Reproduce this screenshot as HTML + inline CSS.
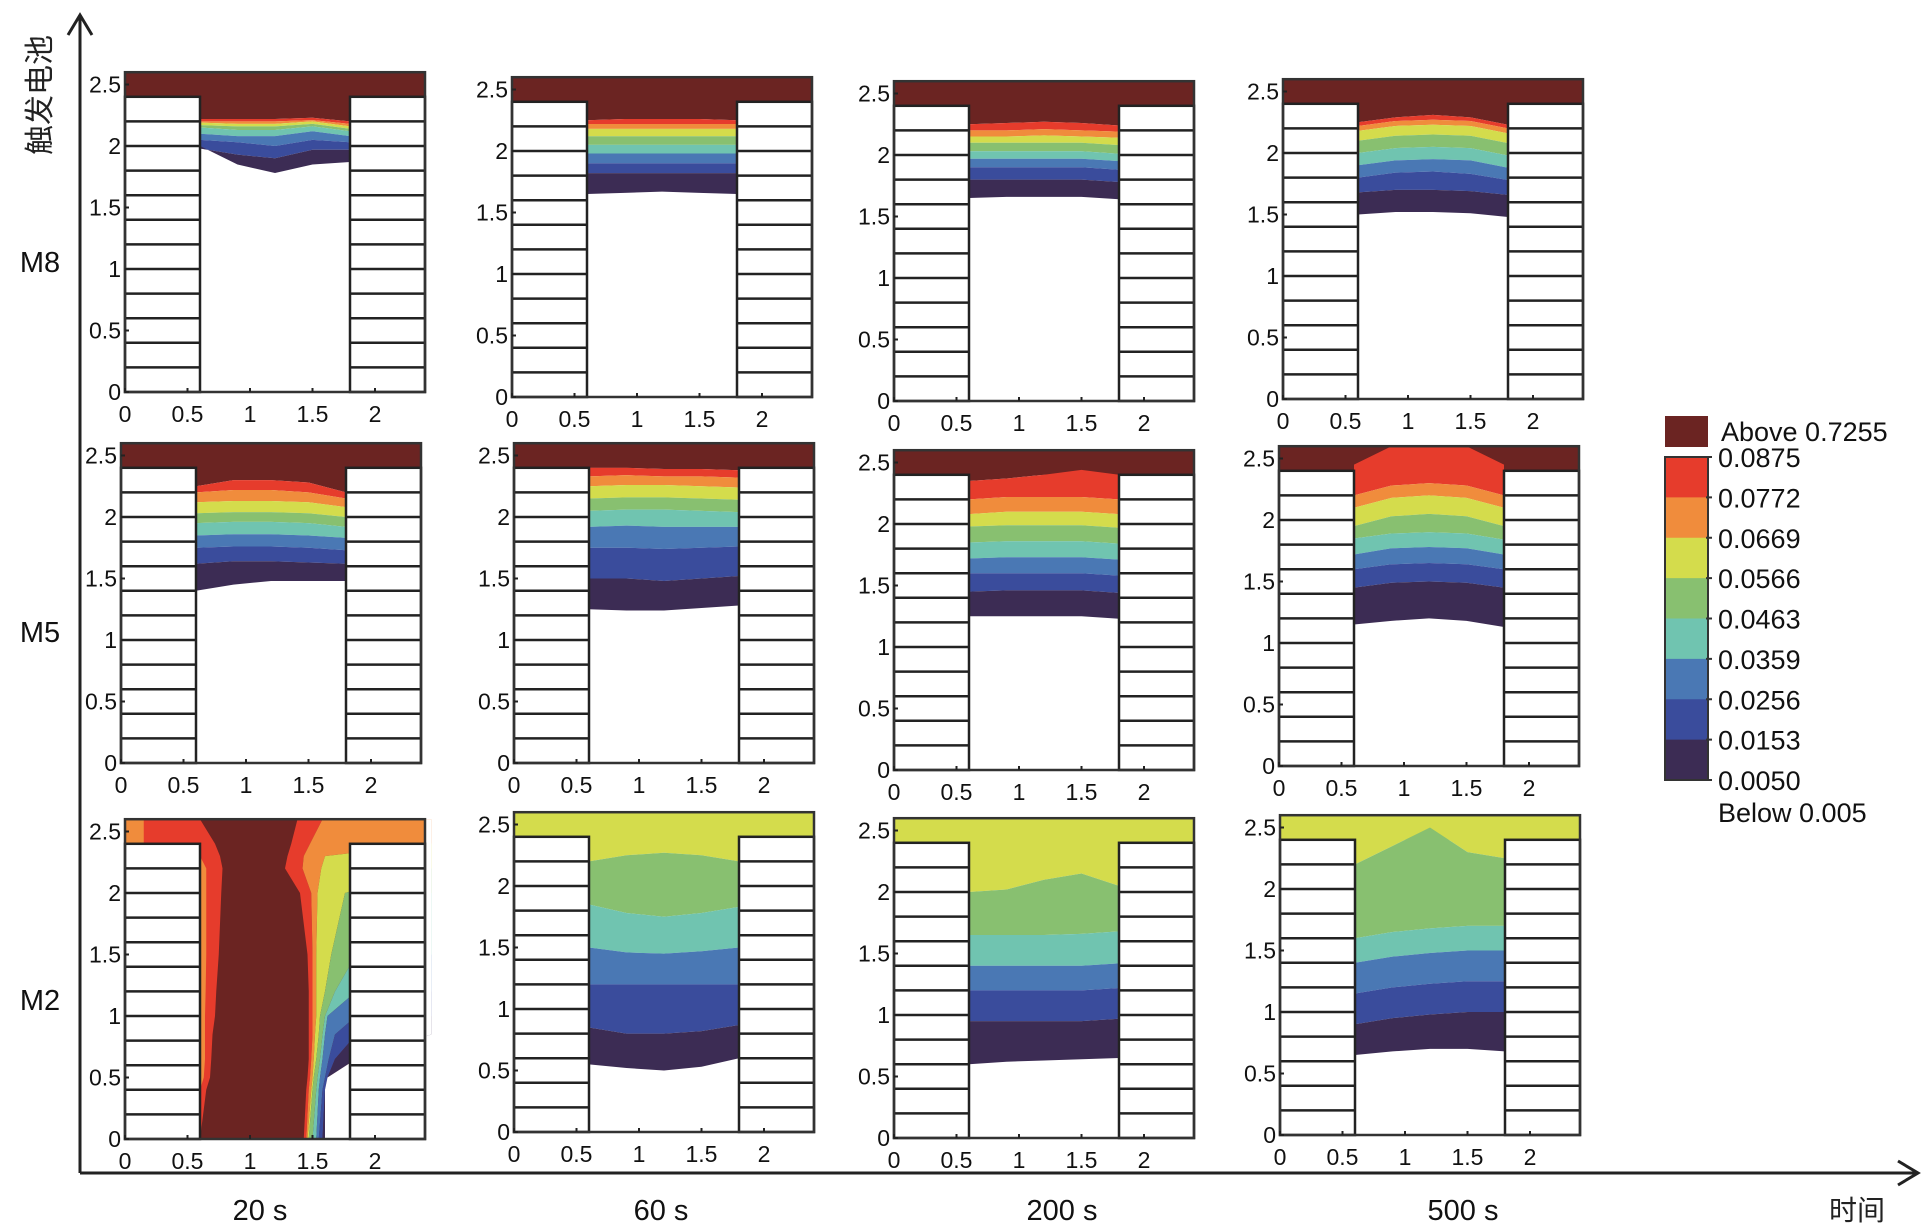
<!DOCTYPE html>
<html><head><meta charset="utf-8"><style>
html,body{margin:0;padding:0;background:#fff}
svg{display:block;font-family:"Liberation Sans","Noto Sans CJK SC",sans-serif}
</style></head><body>
<svg id="chart" width="1931" height="1228" viewBox="0 0 1931 1228"></svg>
<script>
// ---- data ----
const colors = ["#6b2422","#e63c2c","#f08c3c","#d4dc4c","#88c070","#70c4b0","#4a78b4","#3a4c9c","#3c2c54"];
const legendLabels = ["0.0875","0.0772","0.0669","0.0566","0.0463","0.0359","0.0256","0.0153","0.0050"];
const rowNames = ["M8","M5","M2"];
const timeLabels = ["20 s","60 s","200 s","500 s"];
const xTicks = [0,0.5,1,1.5,2];
const yTicks = [0,0.5,1,1.5,2,2.5];
const bandX = [0.6,0.9,1.2,1.5,1.8];
const p00 = [[2.22,2.22,2.22,2.23,2.2],[2.2,2.2,2.2,2.21,2.18],[2.19,2.18,2.18,2.2,2.16],[2.17,2.16,2.16,2.18,2.14],[2.15,2.13,2.13,2.16,2.12],[2.1,2.08,2.08,2.12,2.08],[2.05,2.03,2.0,2.05,2.03],[1.98,1.93,1.9,1.97,1.97],[2.0,1.85,1.78,1.85,1.87]];
const p01 = [[2.25,2.26,2.26,2.26,2.25],[2.22,2.22,2.22,2.22,2.22],[2.18,2.18,2.18,2.18,2.18],[2.12,2.12,2.12,2.12,2.12],[2.05,2.05,2.05,2.05,2.05],[1.98,1.98,1.98,1.98,1.98],[1.9,1.9,1.9,1.9,1.9],[1.82,1.82,1.82,1.82,1.82],[1.65,1.66,1.67,1.66,1.65]];
const p02 = [[2.25,2.26,2.27,2.26,2.24],[2.2,2.2,2.21,2.2,2.19],[2.15,2.15,2.16,2.15,2.14],[2.1,2.1,2.1,2.1,2.08],[2.03,2.03,2.03,2.03,2.01],[1.97,1.97,1.97,1.97,1.95],[1.9,1.9,1.9,1.9,1.88],[1.8,1.8,1.8,1.8,1.78],[1.65,1.66,1.66,1.66,1.64]];
const p03 = [[2.25,2.29,2.31,2.29,2.23],[2.22,2.26,2.27,2.26,2.2],[2.18,2.22,2.23,2.22,2.16],[2.1,2.14,2.15,2.14,2.08],[2.0,2.04,2.05,2.04,1.98],[1.9,1.94,1.95,1.94,1.88],[1.8,1.84,1.85,1.83,1.78],[1.68,1.7,1.7,1.69,1.66],[1.5,1.52,1.52,1.51,1.48]];
const p10 = [[2.25,2.3,2.3,2.28,2.2],[2.2,2.22,2.22,2.2,2.15],[2.12,2.13,2.13,2.12,2.08],[2.03,2.04,2.04,2.03,2.0],[1.95,1.96,1.96,1.95,1.92],[1.85,1.86,1.86,1.85,1.83],[1.75,1.76,1.76,1.75,1.73],[1.62,1.64,1.64,1.63,1.62],[1.4,1.45,1.48,1.48,1.48]];
const p11 = [[2.4,2.4,2.39,2.39,2.38],[2.33,2.34,2.33,2.33,2.32],[2.25,2.26,2.26,2.25,2.24],[2.15,2.16,2.16,2.15,2.14],[2.05,2.06,2.06,2.05,2.04],[1.92,1.93,1.92,1.92,1.92],[1.75,1.75,1.74,1.75,1.76],[1.5,1.5,1.48,1.5,1.52],[1.25,1.24,1.24,1.26,1.28]];
const p12 = [[2.35,2.37,2.4,2.44,2.4],[2.2,2.22,2.22,2.22,2.2],[2.08,2.1,2.1,2.1,2.08],[1.98,1.99,1.99,1.99,1.97],[1.85,1.86,1.86,1.86,1.84],[1.72,1.73,1.73,1.73,1.71],[1.6,1.6,1.6,1.6,1.58],[1.45,1.46,1.46,1.46,1.44],[1.25,1.25,1.25,1.25,1.23]];
const p13 = [[2.45,2.6,2.6,2.6,2.45],[2.2,2.28,2.3,2.28,2.2],[2.1,2.18,2.2,2.18,2.1],[1.95,2.03,2.05,2.03,1.95],[1.85,1.89,1.9,1.89,1.84],[1.72,1.77,1.78,1.77,1.72],[1.6,1.64,1.65,1.64,1.6],[1.45,1.49,1.5,1.49,1.45],[1.15,1.18,1.2,1.18,1.13]];
const p21 = [[2.2,2.25,2.27,2.25,2.2],[1.85,1.78,1.75,1.78,1.83],[1.5,1.46,1.45,1.47,1.5],[1.2,1.2,1.2,1.2,1.2],[0.85,0.8,0.8,0.82,0.87],[0.55,0.52,0.5,0.53,0.6]];
const p22 = [[2.0,2.02,2.1,2.15,2.05],[1.65,1.65,1.65,1.66,1.68],[1.4,1.4,1.4,1.4,1.42],[1.2,1.2,1.2,1.2,1.22],[0.95,0.95,0.95,0.95,0.97],[0.6,0.62,0.63,0.64,0.65]];
const p23 = [[2.2,2.35,2.5,2.3,2.25],[1.6,1.65,1.68,1.7,1.7],[1.4,1.45,1.48,1.5,1.5],[1.15,1.2,1.23,1.25,1.25],[0.9,0.95,0.98,1.0,1.0],[0.65,0.68,0.7,0.7,0.68]];
const firstColor = [[0,0,0,0],[0,0,0,0],[null,3,3,3]];
const panelData = [[p00,p01,p02,p03],[p10,p11,p12,p13],[null,p21,p22,p23]];
// M2 at 20 s: vertical contours, x position at each y level
const vLevels = [0,0.4,0.5,0.65,0.85,1.0,1.2,1.5,2.0,2.2,2.3,2.4,2.6];
const vLeft  = [0.6,0.65,0.68,0.69,0.7,0.72,0.73,0.75,0.77,0.78,0.76,0.72,0.6];
const vLeft2 = [0.6,0.6,0.63,0.64,0.64,0.64,0.645,0.65,0.65,0.65,0.6,0.6,0.6];
const vBounds = [
 [1.43,1.45,1.46,1.47,1.47,1.47,1.47,1.46,1.4,1.28,1.3,1.33,1.38],
 [1.45,1.47,1.48,1.49,1.5,1.5,1.5,1.5,1.49,1.42,1.43,1.48,1.58],
 [1.46,1.49,1.5,1.51,1.52,1.53,1.53,1.53,1.54,1.57,1.6,2.45,2.45],
 [1.47,1.5,1.51,1.53,1.55,1.56,1.6,1.65,1.76,2.45,2.45,2.45,2.45],
 [1.5,1.53,1.54,1.56,1.58,1.6,1.68,1.85,2.45,2.45,2.45,2.45,2.45],
 [1.53,1.55,1.56,1.58,1.6,1.62,1.85,2.45,2.45,2.45,2.45,2.45,2.45],
 [1.55,1.58,1.6,1.63,1.68,1.85,2.45,2.45,2.45,2.45,2.45,2.45,2.45],
 [1.58,1.6,1.62,1.68,1.85,2.45,2.45,2.45,2.45,2.45,2.45,2.45,2.45],
 [1.6,1.6,1.62,1.85,2.45,2.45,2.45,2.45,2.45,2.45,2.45,2.45,2.45]];
const origins = [[[125,392],[512,397],[894,401],[1283,399]],[[121,763],[514,763],[894,770],[1279,766]],[[125,1139],[514,1132],[894,1138],[1280,1135]]];

// ---- drawing ----
const NS="http://www.w3.org/2000/svg";
const svg=document.getElementById('chart');
function mk(tag,attrs,parent){const e=document.createElementNS(NS,tag);for(const k in attrs)e.setAttribute(k,attrs[k]);(parent||svg).appendChild(e);return e;}
const SX=125, SY=123;
function xs(o,v){return o[0]+v*SX;}
function ys(o,v){return o[1]-v*SY;}
function bandPts(o,A,B){
  const n=vLevels.length;
  return vLevels.map((y,i)=>xs(o,A[i])+','+ys(o,y)).concat(vLevels.slice().reverse().map((y,i)=>xs(o,B[n-1-i])+','+ys(o,y))).join(' ');
}

for(let r=0;r<3;r++)for(let c=0;c<4;c++){
  const o=origins[r][c];
  const g=mk('g',{});
  
  
  if(panelData[r][c]){
    const lines=panelData[r][c]; const fc=firstColor[r][c];
    const strip=mk('rect',{x:xs(o,0),y:ys(o,2.6),width:2.4*SX,height:0.2*SY,fill:colors[fc]},g);
    
    
    let top=bandX.map(()=>2.6);
    lines.forEach((ln,i)=>{
      let pts=bandX.map((x,j)=>xs(o,x)+','+ys(o,top[j]));
      pts=pts.concat(bandX.slice().reverse().map((x,j)=>xs(o,x)+','+ys(o,ln[bandX.length-1-j])));
      const p=mk('polygon',{points:pts.join(' '),fill:colors[fc+i]},g);
      
      
      top=ln;
    });
  } else {
    const bg=mk('rect',{x:xs(o,0),y:ys(o,2.6),width:2.4*SX,height:2.6*SY,fill:colors[0]},g);
    
    
    const zeros=vLevels.map(()=>0), sixes=vLevels.map(()=>0.6);
    const lpoly=mk('polygon',{points:bandPts(o,zeros,vLeft),fill:colors[1]},g);
    
    
    const lpoly2=mk('polygon',{points:bandPts(o,sixes,vLeft2),fill:colors[2]},g);
    
    
    const os=mk('rect',{x:xs(o,0),y:ys(o,2.6),width:0.15*SX,height:0.2*SY,fill:colors[2]},g);
    
    
    const all=vBounds.concat([vLevels.map(()=>2.4)]);
    for(let k=0;k<all.length-1;k++){
      const p=mk('polygon',{points:bandPts(o,all[k],all[k+1]),fill:k<8?colors[k+1]:'#fff'},g);
      
      
    }
  }
  [[0,0.6],[1.8,2.4]].forEach(w=>{
    const wr=mk('rect',{x:xs(o,w[0]),y:ys(o,2.4),width:(w[1]-w[0])*SX,height:2.4*SY,fill:'#fff',stroke:'#222','stroke-width':2.5},g);
    
    
    for(let k=1;k<12;k++){mk('line',{x1:xs(o,w[0]),x2:xs(o,w[1]),y1:ys(o,k*0.2),y2:ys(o,k*0.2),stroke:'#222','stroke-width':2.5},g);}
  });
  const fr=mk('rect',{x:xs(o,0),y:ys(o,2.6),width:2.4*SX,height:2.6*SY,fill:'none',stroke:'#333','stroke-width':2.5},g);
  
  
  yTicks.forEach(t=>{
    mk('line',{x1:xs(o,0),x2:xs(o,0)+4,y1:ys(o,t),y2:ys(o,t),stroke:'#222','stroke-width':2},g);
    const tx=mk('text',{x:xs(o,0)-4,y:ys(o,t)+8,'text-anchor':'end','font-size':23,fill:'#111'},g);
    tx.textContent=t;  
  });
  xTicks.forEach(t=>{
    mk('line',{x1:xs(o,t),x2:xs(o,t),y1:o[1],y2:o[1]-4,stroke:'#222','stroke-width':2},g);
    const tx=mk('text',{x:xs(o,t),y:o[1]+30,'text-anchor':'middle','font-size':23,fill:'#111'},g);
    tx.textContent=t;  
  });
}
const ya=mk('path',{d:'M80,1173 L80,15 M68,35 L80,15 L92,35',stroke:'#222','stroke-width':3,fill:'none'});
 
const xa=mk('path',{d:'M80,1173 L1918,1173 M1898,1161 L1918,1173 L1898,1185',stroke:'#222','stroke-width':3,fill:'none'});
 
const yt=mk('text',{x:0,y:0,'font-size':30,fill:'#222',transform:'translate(50,95) rotate(-90)','text-anchor':'middle'});
yt.textContent='触发电池';  
const xt=mk('text',{x:1857,y:1220,'font-size':28,fill:'#222','text-anchor':'middle'});
xt.textContent='时间';  
const rowY=[262,632,1000];
rowNames.forEach((n,i)=>{const t=mk('text',{x:40,y:rowY[i]+10,'font-size':29,'text-anchor':'middle',fill:'#111'});t.textContent=n;});
const colX=[260,661,1062,1463];
timeLabels.forEach((n,i)=>{const t=mk('text',{x:colX[i],y:1220,'font-size':29,'text-anchor':'middle',fill:'#111'});t.textContent=n;});
const lg=mk('g',{});  
mk('rect',{x:1665,y:416,width:43,height:31,fill:colors[0]},lg);
const at=mk('text',{x:1721,y:441,'font-size':27,fill:'#111'},lg); at.textContent='Above 0.7255';
const cb0=457, step=(780-457)/8;
for(let k=0;k<8;k++){mk('rect',{x:1665,y:cb0+k*step,width:43,height:step+0.5,fill:colors[k+1]},lg);}
mk('rect',{x:1665,y:cb0,width:43,height:323,fill:'none',stroke:'#333','stroke-width':2},lg);
legendLabels.forEach((l,k)=>{const t=mk('text',{x:1718,y:cb0+k*step+10,'font-size':27,fill:'#111'},lg);t.textContent=l;mk('line',{x1:1706,x2:1712,y1:cb0+k*step,y2:cb0+k*step,stroke:'#333','stroke-width':2},lg);});
const bt=mk('text',{x:1718,y:822,'font-size':27,fill:'#111'},lg); bt.textContent='Below 0.005';
</script>
</body></html>
